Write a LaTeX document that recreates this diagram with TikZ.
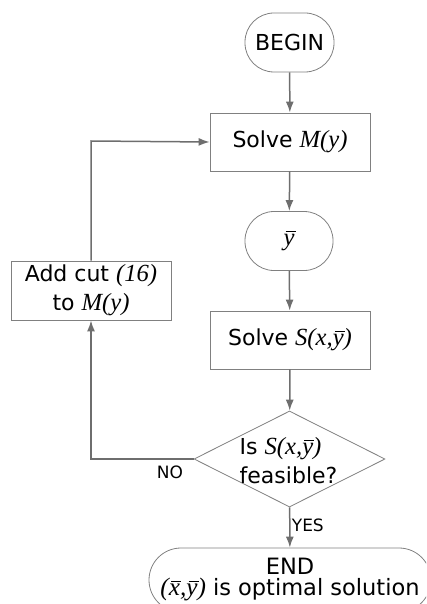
\documentclass[tikz,border=0pt]{standalone}
\usepackage{fontspec}
\setmainfont{DejaVu Sans}
\newfontfamily\mitf{Liberation Serif}[Scale=1.12]
\usetikzlibrary{shapes.geometric,arrows.meta}
\newcommand\mv[1]{{\mitf\itshape #1}}
\newcommand\ovl[1]{\leavevmode\setbox0\hbox{\mv{#1}}\dimen0=\ht0 \advance\dimen0 by 2.2pt\rlap{\kern2.2pt\raise\dimen0\hbox{\vrule height 0.9pt depth 0pt width \dimexpr\wd0-1pt\relax}}\box0}
\definecolor{lc}{HTML}{6E6E6E}
\definecolor{bc}{HTML}{808080}
\begin{document}
\begin{tikzpicture}[x=1pt,y=-1pt,
  every node/.style={font=\fontsize{22}{29}\selectfont},
  proc/.style={draw=bc,line width=0.8pt,rectangle,minimum width=160pt,minimum height=58pt,inner sep=0pt,align=center},
  term/.style={draw=bc,line width=0.8pt,rectangle,rounded corners=29pt,minimum height=59pt,inner sep=0pt,align=center},
  dec/.style={draw=bc,line width=0.8pt,diamond,minimum width=191pt,minimum height=96pt,inner sep=0pt},
  conn/.style={draw=lc,line width=1.5pt,-{Latex[length=11pt,width=8pt]}},
  lab/.style={font=\fontsize{17}{20}\selectfont}]
\useasboundingbox (0,0) rectangle (426,604);
\clip (0,0) rectangle (426,604);
\node[term,minimum width=89pt] (begin) at (289.5,42.5) {BEGIN};
\node[proc] (solveM) at (290,142) {Solve \mv{M(y)}};
\node[term,minimum width=88pt] (ybar) at (289,241) {\ovl{y}};
\node[proc] (solveS) at (290,340) {Solve \mv{S(x,}\ovl{y}\mv{)}};
\node[proc,minimum height=59pt] (cut) at (91,290.5) {Add cut \mv{(16)}\\to \mv{M(y)}};
\node[dec] (feas) at (289.5,459) {};
\node[align=left,inner sep=0pt] (feastext) at (288.5,461) {Is \mv{S(x,}\ovl{y}\mv{)}\\feasible?};
\node[term,rounded corners=32pt,minimum width=282pt,minimum height=64pt,font=\fontsize{22.5}{24}\selectfont] (end) at (290,580) {END\\[-3pt]\mv{(}\ovl{x}\mv{,}\ovl{y}\mv{)} is optimal solution};
\coordinate (c1) at (91,141);
\coordinate (c2) at (91,459);
\draw[conn] (begin) -- (solveM);
\draw[conn] (solveM) -- (ybar);
\draw[conn] (ybar) -- (solveS);
\draw[conn] (solveS) -- (feas);
\draw[conn] (feas) -- node[lab,right,pos=0.45,xshift=-2pt] {YES} (end);
\draw[conn] (cut.north) -- (c1) -- (solveM.west);
\draw[conn] (feas.west) -- (c2) -- (cut.south);
\node[lab] (no) at (170,472) {NO};
\end{tikzpicture}
\end{document}
